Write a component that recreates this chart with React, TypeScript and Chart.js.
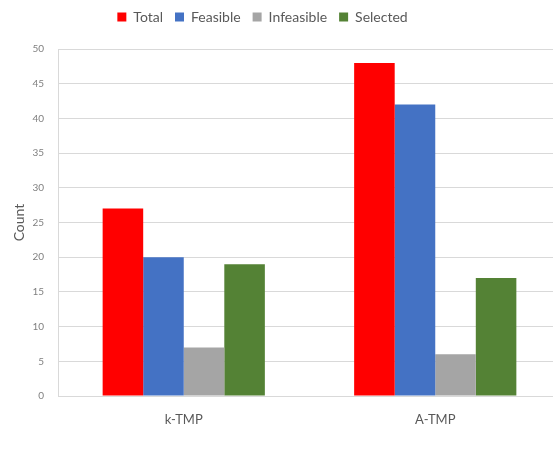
import React, { useEffect, useRef } from "react";
import { Chart, registerables } from "chart.js";

Chart.register(...registerables);

const categories = ["k-TMP", "A-TMP"];
const seriesNames = ["Total", "Feasible", "Infeasible", "Selected"];
const totalValues = [27, 48];
const feasibleValues = [20, 42];
const infeasibleValues = [7, 6];
const selectedValues = [19, 17];
const seriesColors = ["#ff0000", "#4472c4", "#a5a5a5", "#548235"];
const yTickMin = 0;
const yTickMax = 50;
const yTickStep = 5;

const FONT = "Lato, 'Open Sans', sans-serif";

// Fix the legend band height and nudge the legend so the plot sits where wanted.
const legendTweak = {
  id: "legendTweak",
  beforeLayout(chart: any) {
    const lg = chart.legend;
    if (lg && !lg.__tweaked) {
      lg.__tweaked = true;
      const fit = lg.fit.bind(lg);
      lg.fit = function () {
        fit();
        this.height = 49;
      };
      const draw = lg.draw.bind(lg);
      lg.draw = function () {
        const ctx = chart.ctx;
        ctx.save();
        ctx.translate(-18, -2);
        draw();
        ctx.restore();
      };
    }
  },
};

export default function App() {
  const ref = useRef<HTMLCanvasElement | null>(null);

  useEffect(() => {
    if (!ref.current) return;
    const values = [totalValues, feasibleValues, infeasibleValues, selectedValues];
    const chart = new Chart(ref.current, {
      type: "bar",
      data: {
        labels: categories,
        datasets: seriesNames.map((name, i) => ({
          label: name,
          data: values[i],
          backgroundColor: seriesColors[i],
          borderWidth: 0,
          barPercentage: 1,
          categoryPercentage: 0.645,
        })),
      },
      options: {
        animation: false,
        responsive: false,
        layout: { padding: 0 },
        plugins: {
          tooltip: { enabled: false },
          legend: {
            position: "top",
            labels: {
              boxWidth: 9,
              boxHeight: 9,
              padding: 12,
              color: "#595959",
              font: { family: FONT, size: 14 },
            },
          },
        },
        scales: {
          x: {
            grid: { display: false, drawTicks: false },
            border: { display: false },
            ticks: {
              color: "#595959",
              padding: 16,
              font: { family: FONT, size: 13 },
            },
            afterFit(scale: any) {
              scale.height = 73;
            },
          },
          y: {
            min: yTickMin,
            max: yTickMax,
            ticks: {
              stepSize: yTickStep,
              color: "#808080",
              padding: 14,
              font: { family: FONT, size: 10 },
            },
            grid: { color: "#d9d9d9", drawTicks: false },
            border: { display: true, color: "#d9d9d9" },
            title: {
              display: true,
              text: "Count",
              color: "#595959",
              font: { family: FONT, size: 14 },
              padding: { top: 11, bottom: 0 },
            },
            afterFit(scale: any) {
              scale.width = 58;
            },
          },
        },
      },
      plugins: [legendTweak],
    });
    return () => chart.destroy();
  }, []);

  return (
    <div
      style={{
        position: "fixed",
        left: 0,
        top: 0,
        width: 553,
        height: 469,
        overflow: "hidden",
        background: "#ffffff",
      }}
    >
      <canvas ref={ref} width={561} height={469} style={{ display: "block" }} />
    </div>
  );
}
